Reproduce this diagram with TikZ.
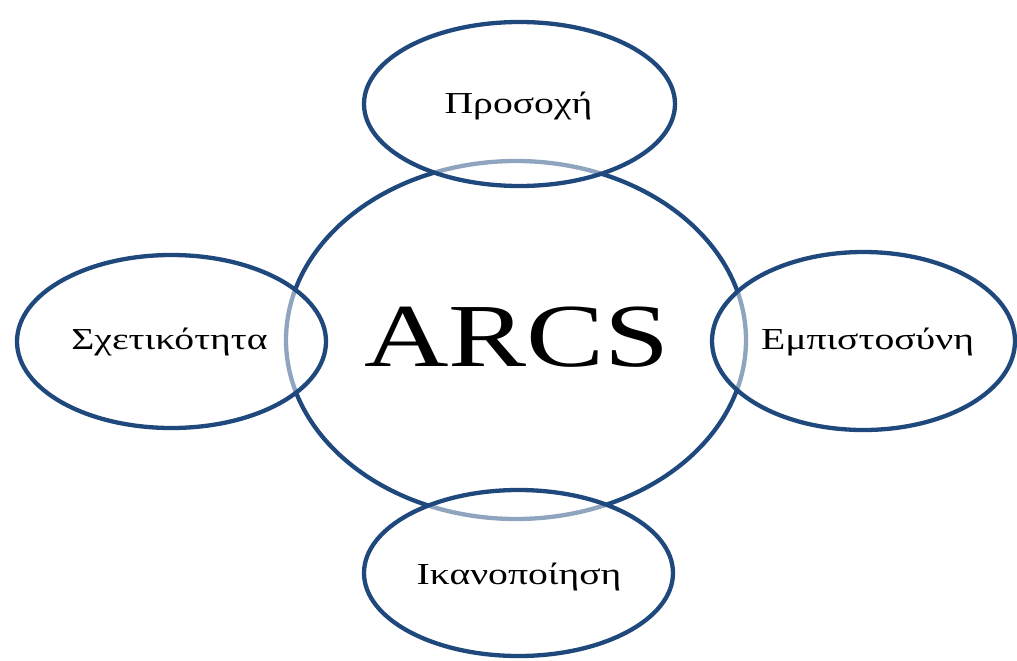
\documentclass[tikz,border=0pt]{standalone}
\usepackage{fontspec}
\setmainfont{Liberation Serif}
\usetikzlibrary{shapes.geometric}
\definecolor{ringblue}{HTML}{1F497D}
\tikzset{
  ring/.style={ellipse, draw=ringblue, line width=4.3pt, inner sep=0pt},
  petal/.style={ring, fill=white, fill opacity=0.5, text opacity=1},
  lbl/.style={font=\fontsize{30.5}{32}\selectfont, text=black},
}
\newcommand{\wide}[1]{\scalebox{1.3}[1]{#1}}
\begin{document}
\begin{tikzpicture}[x=1pt,y=-1pt]
\useasboundingbox (0,0) rectangle (1017,661);
\clip (0,0) rectangle (1017,661);
\node[ring, minimum width=460pt, minimum height=358pt] (core) at (516,340) {};
\node[font=\fontsize{90}{90}\selectfont] (arcs) at (517,337) {\wide{ARCS}};
\node[petal, minimum width=311pt, minimum height=164pt] (top) at (519.5,104) {};
\node[petal, minimum width=309pt, minimum height=173pt] (left) at (171.5,341.5) {};
\node[petal, minimum width=303pt, minimum height=178pt] (right) at (863.5,341) {};
\node[petal, minimum width=309pt, minimum height=166pt] (bottom) at (518.5,573) {};
\node[lbl] (ttop) at (518.5,106) {\wide{Προσοχή}};
\node[lbl] (tleft) at (169.5,342) {\wide{Σχετικότητα}};
\node[lbl] (tright) at (867.5,342) {\wide{Εμπιστοσύνη}};
\node[lbl] (tbottom) at (519,577) {\wide{Ικανοποίηση}};
\end{tikzpicture}
\end{document}
